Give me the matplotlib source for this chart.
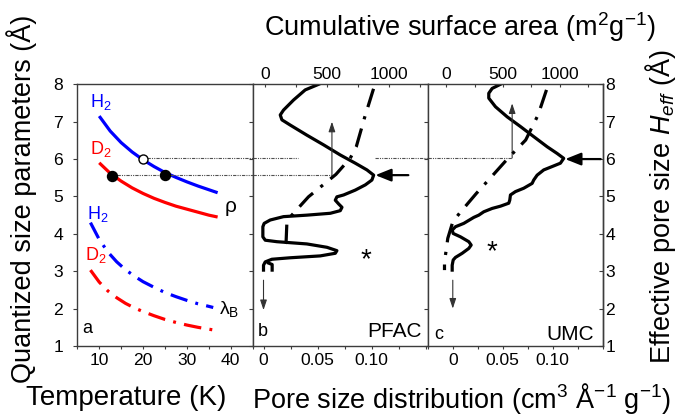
import matplotlib
matplotlib.use("Agg")
import matplotlib.pyplot as plt
from matplotlib.ticker import MultipleLocator, FixedLocator, FixedFormatter

plt.rcParams['font.family'] = ['Liberation Sans', 'DejaVu Sans']
plt.rcParams['mathtext.fontset'] = 'custom'
plt.rcParams['mathtext.rm'] = 'Liberation Sans'
plt.rcParams['mathtext.it'] = 'Liberation Sans:italic'
plt.rcParams['mathtext.bf'] = 'Liberation Sans:bold'

# ---------------- Data ----------------
# Panel a: quantized size parameters vs temperature
T_h2_rho = [10, 12.5, 15, 17.5, 20, 22.5, 25, 27.5, 30, 32.5, 35, 37]
h2_rho = [7.15, 6.75, 6.44, 6.19, 5.98, 5.80, 5.64, 5.51, 5.39, 5.28, 5.18, 5.10]
T_d2_rho = [10, 12.5, 15, 17.5, 20, 22.5, 25, 27.5, 30, 32.5, 35, 37]
d2_rho = [5.90, 5.62, 5.41, 5.23, 5.08, 4.95, 4.84, 4.74, 4.66, 4.58, 4.50, 4.45]
T_h2_lam = [8, 10, 12, 14, 16, 18, 20, 22.5, 25, 27.5, 30, 32.5, 35, 36]
h2_lam = [4.30, 3.85, 3.51, 3.25, 3.04, 2.87, 2.72, 2.57, 2.43, 2.32, 2.22, 2.13, 2.06, 2.03]
T_d2_lam = [8, 10, 12, 14, 16, 18, 20, 22.5, 25, 27.5, 30, 32.5, 35, 37]
d2_lam = [3.03, 2.71, 2.47, 2.29, 2.14, 2.02, 1.92, 1.81, 1.71, 1.63, 1.56, 1.50, 1.45, 1.41]
open_pt = (20, 6.0)
filled_T = [13, 25]
filled_y = [5.55, 5.58]

# Panel b: PFAC
pfac_heff = [8.00, 7.85, 7.58, 7.31, 7.18, 7.05, 6.91, 6.64, 6.38, 6.11, 5.89, 5.71, 5.57,
             5.44, 5.31, 5.17, 5.04, 4.99, 4.90, 4.80, 4.71, 4.62, 4.55, 4.50, 4.46, 4.37,
             4.28, 4.19, 3.92, 3.83, 3.79, 3.73, 3.64, 3.55, 3.48, 3.41, 3.36, 3.32, 3.25,
             3.16, 3.03]
pfac_psd = [0.0510, 0.0386, 0.0278, 0.0185, 0.0155, 0.0170, 0.0247, 0.0401, 0.0556, 0.0710,
            0.0849, 0.0957, 0.1019, 0.1003, 0.0942, 0.0849, 0.0741, 0.0679, 0.0664, 0.0695,
            0.0726, 0.0710, 0.0618, 0.0401, 0.0185, 0.0062, 0.0006, -0.0006, -0.0006, 0.0016,
            0.0124, 0.0401, 0.0587, 0.0679, 0.0664, 0.0525, 0.0247, 0.0077, 0.0016, 0.0, 0.0]
pfac_hook_heff = [3.22, 3.18, 3.03]
pfac_hook_psd = [0.0045, 0.008, 0.008]
pfac_cum_heff = [7.88, 7.11, 6.33, 6.02, 5.59, 4.99, 4.50, 4.28, 3.79, 3.52]
pfac_cum = [873, 801, 734, 685, 570, 349, 215, 175, 169, 126]

# Panel c: UMC
umc_heff = [8.00, 7.89, 7.76, 7.63, 7.40, 7.13, 6.87, 6.60, 6.33, 6.15, 6.02, 5.89, 5.80,
            5.71, 5.57, 5.44, 5.35, 5.22, 5.13, 5.04, 4.90, 4.82, 4.74, 4.68, 4.59, 4.50,
            4.44, 4.28, 4.19, 4.10, 4.01, 3.92, 3.79, 3.70, 3.61, 3.48, 3.37, 3.30, 3.16, 3.03]
umc_psd = [0.0477, 0.0394, 0.0360, 0.0360, 0.0427, 0.0544, 0.0677, 0.0810, 0.0944, 0.1044,
           0.1110, 0.1077, 0.0994, 0.0910, 0.0844, 0.0810, 0.0794, 0.0710, 0.0627, 0.0577,
           0.0570, 0.0560, 0.0477, 0.0394, 0.0310, 0.0260, 0.0210, 0.0110, 0.0027, -0.0006,
           0.0004, 0.0077, 0.0160, 0.0184, 0.0160, 0.0094, 0.0027, 0.0004, -0.0006, -0.0006]
umc_cum_heff = [7.85, 7.18, 6.51, 6.02, 5.62, 5.08, 4.55, 4.32, 3.88, 3.57, 3.25, 3.03]
umc_cum = [883, 809, 700, 544, 426, 265, 117, 58, 14, 0, -15, -15]

y_ticks = [1, 2, 3, 4, 5, 6, 7, 8]
T_ticks = [10, 20, 30, 40]
psd_ticks = [0, 0.05, 0.10]
psd_labels = ['0', '0.05', '0.10']
cum_ticks = [0, 500, 1000]

# ---------------- Figure ----------------
W, H = 683, 420
fig = plt.figure(figsize=(W / 100, H / 100), dpi=100)

SP = '#3c3c3c'
BLUE = '#0000ff'
RED = '#ff0000'
TFS = 12.6

def fx(px):
    return px / W

def fy(py):
    return 1 - py / H

y0, y1 = 346, 84.3
axa = fig.add_axes([fx(77.3), fy(y0), fx(252.7 - 77.3), (y0 - y1) / H])
axb = fig.add_axes([fx(252.7), fy(y0), fx(427.8 - 252.7), (y0 - y1) / H])
axc = fig.add_axes([fx(427.8), fy(y0), fx(602.7 - 427.8), (y0 - y1) / H])

axbt = axb.twiny()
axct = axc.twiny()

for ax in (axa, axb, axc):
    ax.set_ylim(1, 8)
    ax.yaxis.set_major_locator(FixedLocator(y_ticks))
    for s in ax.spines.values():
        s.set_color(SP)
        s.set_linewidth(1.0)
    ax.tick_params(axis='y', which='both', direction='out', length=3.2, width=0.8, color=SP,
                   labelsize=TFS, pad=7, left=True, right=False,
                   labelleft=(ax is axa), labelright=False)
    ax.tick_params(axis='x', which='both', direction='out', length=2.3, width=0.8,
                   color=SP, labelsize=TFS, pad=3, bottom=True, top=False,
                   labelbottom=True, labeltop=False)

sec = axc.secondary_yaxis('right')
sec.set_yticks(y_ticks)
sec.tick_params(axis='y', direction='in', length=3.2, width=0.8, color=SP,
                labelsize=TFS, pad=2)
sec.spines['right'].set_color(SP)
sec.spines['right'].set_linewidth(1.0)

axa.set_xlim(5, 45)
axa.xaxis.set_major_locator(FixedLocator(T_ticks))
axa.xaxis.set_minor_locator(MultipleLocator(5))
axb.set_xlim(-0.01, 0.152)
axc.set_xlim(-0.025, 0.15)
for ax in (axb, axc):
    ax.xaxis.set_major_locator(FixedLocator(psd_ticks))
    ax.xaxis.set_major_formatter(FixedFormatter(psd_labels))
    ax.xaxis.set_minor_locator(MultipleLocator(0.025))

axbt.set_xlim(-100, 1310)
axct.set_xlim(-162, 1378)
for ax in (axbt, axct):
    ax.yaxis.set_visible(False)
    ax.xaxis.set_major_locator(FixedLocator(cum_ticks))
    ax.xaxis.set_minor_locator(MultipleLocator(250))
    ax.tick_params(axis='x', which='both', direction='in', length=2.5, width=0.8,
                   color=SP, labelsize=TFS, pad=2, top=True, labeltop=True,
                   bottom=False, labelbottom=False)
    for s in ax.spines.values():
        s.set_visible(False)

# ---------------- Panel a ----------------
LW = 2.3
dd = (0, (5.5, 2.6, 0.9, 2.6))
axa.plot(T_h2_rho, h2_rho, color=BLUE, lw=LW, solid_capstyle='butt')
axa.plot(T_d2_rho, d2_rho, color=RED, lw=LW, solid_capstyle='butt')
axa.plot(T_h2_lam, h2_lam, color=BLUE, lw=LW, linestyle=dd)
axa.plot(T_d2_lam, d2_lam, color=RED, lw=LW, linestyle=dd)

ref_style = dict(color='#505050', lw=0.8, linestyle=(0, (3, 1, 1, 1, 1, 1)))
axa.plot([21, 45], [6.03, 6.03], clip_on=False, **ref_style)
axa.plot([14, 45], [5.57, 5.57], clip_on=False, **ref_style)
axa.plot([open_pt[0]], [open_pt[1]], 'o', ms=6.5, mfc='white', mec='black', mew=1.0, zorder=5)
axa.plot(filled_T, filled_y, 'o', ms=7.2, mfc='black', mec='black', zorder=5)

lfs = 13
axa.text(7.8, 7.53, 'H$_2$', color=BLUE, fontsize=lfs, ha='left', va='center')
axa.text(7.8, 6.28, 'D$_2$', color=RED, fontsize=lfs, ha='left', va='center')
axa.text(7.1, 4.53, 'H$_2$', color=BLUE, fontsize=lfs, ha='left', va='center')
axa.text(6.8, 3.43, 'D$_2$', color=RED, fontsize=lfs, ha='left', va='center')
axa.text(38.6, 4.72, 'ρ', color='black', fontsize=15, ha='left', va='center')
axa.text(37.3, 2.0, 'λ$_\\mathrm{B}$', color='black', fontsize=14, ha='left', va='center')
axa.text(6.2, 1.47, 'a', color='black', fontsize=lfs, ha='left', va='center')

# ---------------- Panel b ----------------
cum_dd = (0, (6, 3, 1, 3))
axb.plot(pfac_psd, pfac_heff, color='black', lw=LW, solid_joinstyle='round')
axb.plot(pfac_hook_psd, pfac_hook_heff, color='black', lw=LW)
axbt.plot(pfac_cum, pfac_cum_heff, color='black', lw=LW, linestyle=cum_dd)
axb.plot([-0.01, 0.032], [6.03, 6.03], **ref_style)
axb.plot([0.103, 0.152], [6.03, 6.03], **ref_style)
axb.plot([-0.01, 0.0633], [5.57, 5.57], **ref_style)

thin = dict(arrowstyle='-|>,head_length=0.6,head_width=0.2', lw=0.8, color='#333333',
            shrinkA=0, shrinkB=0, mutation_scale=10)
thick = dict(arrowstyle='-|>,head_length=0.95,head_width=0.38', lw=1.6, color='black',
             shrinkA=0, shrinkB=0, mutation_scale=10)
axb.annotate('', xy=(0.0633, 7.0), xytext=(0.0633, 5.57), arrowprops=thin)
axb.annotate('', xy=(0.0, 1.96), xytext=(0.0, 2.76), arrowprops=thin)
axb.annotate('', xy=(0.1035, 5.57), xytext=(0.134, 5.57), arrowprops=thick, annotation_clip=False)
axb.text(0.095, 3.3, '*', fontsize=20, ha='center', va='center')
axb.text(-0.005, 1.38, 'b', fontsize=lfs, ha='left', va='center')
axb.text(0.146, 1.38, 'PFAC', fontsize=15, ha='right', va='center')

# ---------------- Panel c ----------------
axc.plot(umc_psd, umc_heff, color='black', lw=LW, solid_joinstyle='round')
axct.plot(umc_cum, umc_cum_heff, color='black', lw=LW, linestyle=cum_dd)
axc.plot([-0.025, 0.0594], [6.03, 6.03], **ref_style)
axc.annotate('', xy=(0.0594, 7.49), xytext=(0.0594, 6.03), arrowprops=thin)
axc.annotate('', xy=(0.0, 2.0), xytext=(0.0, 2.76), arrowprops=thin)
axc.annotate('', xy=(0.1125, 6.0), xytext=(0.148, 6.0), arrowprops=thick, annotation_clip=False)
axc.text(0.0387, 3.52, '*', fontsize=20, ha='center', va='center')
axc.text(-0.019, 1.32, 'c', fontsize=lfs, ha='left', va='center')
axc.text(0.141, 1.32, 'UMC', fontsize=15, ha='right', va='center')

# ---------------- Labels ----------------
BFS = 19.5
fig.text(0.673, fy(27), 'Cumulative surface area (m$^2$g$^{-1}$)', fontsize=BFS,
         ha='center', va='center')
fig.text(0.676, fy(398), 'Pore size distribution (cm$^3$ Å$^{-1}$ g$^{-1}$)', fontsize=BFS,
         ha='center', va='center')
fig.text(fx(126), fy(398), 'Temperature (K)', fontsize=BFS + 0.5, ha='center', va='center')
fig.text(fx(22), fy(199), 'Quantized size parameters (Å)', fontsize=BFS, rotation=90,
         ha='center', va='center')
fig.text(fx(660), fy(207), 'Effective pore size $H_{eff}$ (Å)', fontsize=BFS, rotation=90,
         ha='center', va='center')

fig.savefig('out.png', dpi=100)
